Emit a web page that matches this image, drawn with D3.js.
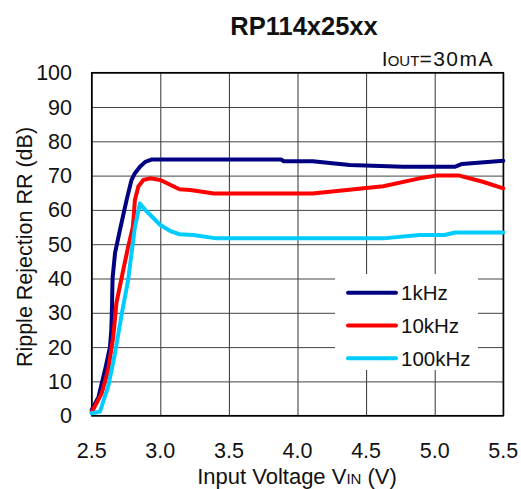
<!DOCTYPE html>
<html>
<head>
<meta charset="utf-8">
<script src="https://cdn.jsdelivr.net/npm/d3@7"></script>
<style>
html,body{margin:0;padding:0;background:#fff;}
svg{display:block;font-family:"Liberation Sans",Arial,sans-serif;}
</style>
</head>
<body>
<svg id="chart" width="521" height="489"></svg>
<script>
// ---- data ----
const xTicks = [2.5, 3.0, 3.5, 4.0, 4.5, 5.0, 5.5];
const yTicks = [0, 10, 20, 30, 40, 50, 60, 70, 80, 90, 100];
const seriesNames = ["1kHz", "10kHz", "100kHz"];
const seriesColors = ["#000080", "#ff0000", "#00ccff"];

const v1k  = [2.5,2.55,2.597,2.633,2.643,2.648,2.652,2.67,2.705,2.755,2.79,2.815,2.852,2.89,2.94,3.5,3.88,3.9,4.11,4.38,4.77,5.15,5.2,5.5];
const rr1k = [1.7,5.5,13.3,20,25,32,40,47.4,54,63,68.7,70.7,72.6,74,74.7,74.7,74.7,74.2,74.2,73.1,72.6,72.6,73.4,74.3];

const v10k  = [2.5,2.573,2.62,2.657,2.68,2.73,2.766,2.80,2.815,2.84,2.876,2.925,3.0,3.14,3.22,3.39,4.11,4.625,4.89,5.01,5.18,5.35,5.5];
const rr10k = [1.0,6.5,13.3,23,32.8,42.5,49.3,55,62.9,66.8,68.7,69.2,68.7,66,65.8,64.8,64.8,66.9,69.2,70,70,68.2,66.3];

const v100k  = [2.5,2.56,2.62,2.67,2.72,2.766,2.79,2.815,2.852,2.89,2.94,3.0,3.07,3.14,3.24,3.41,4.625,4.89,5.07,5.15,5.5];
const rr100k = [0.7,1.2,8.5,18.2,29.9,39.6,47.3,55,61.9,60,58,55.6,53.9,52.9,52.7,51.7,51.7,52.7,52.7,53.4,53.4];

const seriesV = [v1k, v10k, v100k];
const seriesRR = [rr1k, rr10k, rr100k];

// ---- layout ----
const svg = d3.select("#chart");
const L = 91.7, R = 503.3, T = 72.7, B = 415.7;
const x = d3.scaleLinear().domain([2.5, 5.5]).range([L, R]);
const y = d3.scaleLinear().domain([0, 100]).range([B, T]);

// gridlines
const gx = svg.append("g").attr("transform", `translate(0,${B})`)
  .call(d3.axisBottom(x).tickValues(xTicks).tickSize(-(B - T)).tickFormat(""));
gx.select(".domain").remove();
gx.selectAll("line").attr("stroke", "#333").attr("stroke-width", 1);

const gy = svg.append("g").attr("transform", `translate(${L},0)`)
  .call(d3.axisLeft(y).tickValues(yTicks).tickSize(-(R - L)).tickFormat(""));
gy.select(".domain").remove();
gy.selectAll("line").attr("stroke", "#444").attr("stroke-width", 1);

// tick labels
svg.append("g").selectAll("text").data(xTicks).join("text")
  .attr("x", d => x(d)).attr("y", 458)
  .attr("text-anchor", "middle").attr("font-size", 21.5).attr("fill", "#111")
  .text(d => d.toFixed(1));
svg.append("g").selectAll("text").data(yTicks).join("text")
  .attr("x", 72).attr("y", d => y(d) + 7.5)
  .attr("text-anchor", "end").attr("font-size", 21.5).attr("fill", "#111")
  .text(d => d);

// legend background
svg.append("rect").attr("x", 335).attr("y", 274).attr("width", 143).attr("height", 96).attr("fill", "#fff");

// border
svg.append("rect").attr("x", L).attr("y", T).attr("width", R - L).attr("height", B - T)
  .attr("fill", "none").attr("stroke", "#000").attr("stroke-width", 1.5);

// series lines
const line = d3.line().x(d => x(d[0])).y(d => y(d[1])).curve(d3.curveLinear);
seriesNames.forEach((name, i) => {
  const pts = seriesV[i].map((v, k) => [v, seriesRR[i][k]]);
  svg.append("path").datum(pts).attr("d", line)
    .attr("fill", "none").attr("stroke", seriesColors[i])
    .attr("stroke-width", 4).attr("stroke-linejoin", "round").attr("stroke-linecap", "round");
});

// legend
const legY = [292.7, 325.5, 358.3];
seriesNames.forEach((name, i) => {
  svg.append("line").attr("x1", 348).attr("x2", 396).attr("y1", legY[i]).attr("y2", legY[i])
    .attr("stroke", seriesColors[i]).attr("stroke-width", 4).attr("stroke-linecap", "round");
  svg.append("text").attr("x", 401).attr("y", legY[i] + 7.5)
    .attr("font-size", 20.5).attr("fill", "#111").text(name);
});

// title
svg.append("text").attr("x", 304).attr("y", 35).attr("text-anchor", "middle")
  .attr("font-size", 25.5).attr("font-weight", "bold").attr("fill", "#111").text("RP114x25xx");

// IOUT=30mA
const it = svg.append("text").attr("x", 494).attr("y", 66).attr("text-anchor", "end")
  .attr("font-size", 21).attr("fill", "#111");
it.append("tspan").text("I");
it.append("tspan").attr("font-size", 15).text("OUT");
it.append("tspan").attr("letter-spacing", 1.5).text("=30mA");

// axis titles
const xt = svg.append("text").attr("x", 297).attr("y", 484).attr("text-anchor", "middle")
  .attr("font-size", 22).attr("fill", "#111");
xt.append("tspan").text("Input Voltage V");
xt.append("tspan").attr("font-size", 15).text("IN");
xt.append("tspan").text(" (V)");

svg.append("text").attr("transform", "translate(32,247) rotate(-90)")
  .attr("text-anchor", "middle").attr("font-size", 21.5).attr("fill", "#111")
  .text("Ripple Rejection RR (dB)");
</script>
</body>
</html>
